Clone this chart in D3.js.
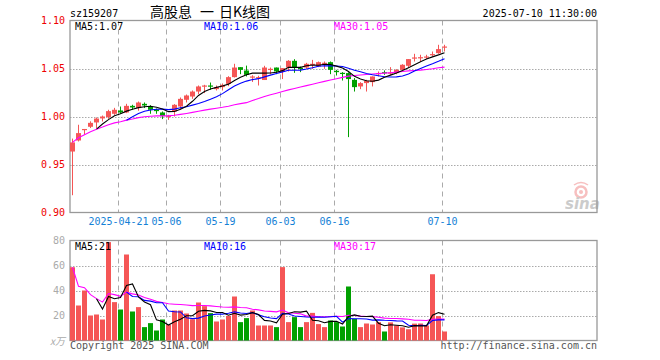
<!DOCTYPE html>
<html><head><meta charset="utf-8">
<script src="https://cdn.jsdelivr.net/npm/d3@7"></script>
<style>body{margin:0;background:#fff}svg{display:block}</style>
</head><body>
<script>
const dates = ["2025-04-09","2025-04-10","2025-04-11","2025-04-14","2025-04-15","2025-04-16","2025-04-17","2025-04-18","2025-04-21","2025-04-22","2025-04-23","2025-04-24","2025-04-25","2025-04-28","2025-04-29","2025-04-30",
"2025-05-06","2025-05-07","2025-05-08","2025-05-09","2025-05-12","2025-05-13","2025-05-14","2025-05-15","2025-05-16","2025-05-19","2025-05-20","2025-05-21","2025-05-22","2025-05-23","2025-05-26","2025-05-27","2025-05-28","2025-05-29","2025-05-30",
"2025-06-03","2025-06-04","2025-06-05","2025-06-06","2025-06-09","2025-06-10","2025-06-11","2025-06-12","2025-06-13","2025-06-16","2025-06-17","2025-06-18","2025-06-19","2025-06-20","2025-06-23","2025-06-24","2025-06-25","2025-06-26","2025-06-27","2025-06-30",
"2025-07-01","2025-07-02","2025-07-03","2025-07-04","2025-07-07","2025-07-08","2025-07-09","2025-07-10"];
const open  = [0.9635,0.975,0.9865,0.9893,0.9938,0.998,0.9994,1.0028,1.0063,1.0042,1.0111,1.0088,1.0132,1.0104,1.0073,1.0042,1.0004,1.0052,1.0104,1.0174,1.0208,1.026,1.032,1.0323,1.0285,1.0306,1.034,1.041,1.0514,1.0479,1.0414,1.0407,1.038,1.0494,1.051,1.0469,1.051,1.058,1.0507,1.051,1.0546,1.052,1.0549,1.0566,1.0476,1.0455,1.0452,1.0382,1.0313,1.0348,1.0358,1.0449,1.0462,1.0455,1.0452,1.0486,1.0528,1.0612,1.0612,1.0618,1.0642,1.066,1.0719];
const high  = [0.977,0.9914,0.987,0.995,0.999,1.001,1.007,1.009,1.0104,1.0132,1.0122,1.0156,1.0146,1.0118,1.0083,1.0052,1.0017,1.0129,1.0198,1.0229,1.0271,1.0323,1.033,1.0354,1.0323,1.0344,1.042,1.0549,1.0514,1.053,1.043,1.0424,1.0528,1.051,1.051,1.0504,1.0587,1.0597,1.052,1.0559,1.059,1.0573,1.0573,1.0573,1.0486,1.0462,1.046,1.04,1.0358,1.0382,1.0417,1.0469,1.048,1.0514,1.0493,1.0545,1.0598,1.0653,1.0643,1.0643,1.0677,1.0747,1.0747];
const low   = [0.918,0.974,0.981,0.988,0.988,0.9948,0.9976,1.0017,1.0028,1.0035,1.007,1.006,1.0088,1.0028,1.0028,0.9973,0.9965,1.000,1.0073,1.0146,1.0184,1.0233,1.0244,1.0278,1.0271,1.0271,1.0316,1.0406,1.0441,1.0417,1.036,1.0323,1.038,1.044,1.0441,1.039,1.0469,1.0455,1.0462,1.0497,1.0497,1.0514,1.0497,1.0441,1.0427,1.0375,0.9785,1.026,1.0285,1.026,1.0313,1.0417,1.0434,1.0434,1.044,1.048,1.0504,1.0573,1.0573,1.0598,1.0625,1.0653,1.0677];
const close = [0.973,0.9827,0.987,0.9934,0.9979,1.000,1.0056,1.007,1.0042,1.0111,1.0094,1.0146,1.0115,1.007,1.0056,1.0004,1.0008,1.0122,1.0184,1.0219,1.026,1.0313,1.0323,1.0316,1.0306,1.033,1.041,1.051,1.0486,1.0434,1.0417,1.041,1.051,1.0497,1.0469,1.0504,1.058,1.051,1.0497,1.0549,1.0549,1.0566,1.056,1.0486,1.0462,1.0448,1.039,1.0306,1.0348,1.0372,1.0417,1.0452,1.0455,1.0458,1.0486,1.0539,1.0598,1.0615,1.0618,1.0625,1.065,1.0702,1.0729];
const volume = [58.6,28,40,20,20.8,16.8,78.7,30.7,24.8,68.8,23.2,26.7,10.7,13.9,8,16.8,12.5,24,24,21.6,17,30.4,27.5,21.9,15.2,16.8,19.7,35.2,14.7,17.9,24,12,12,12,10.7,58.7,14.7,18.7,10.7,14.7,22.1,13.1,10.7,16,14.7,11.2,43.2,17.3,10.7,13.6,12.8,14.7,7.2,14.5,12,10.5,9,13.5,13.6,12,53,19.5,7.2];
const tickDates  = ["2025-04-21","2025-05-06","2025-05-19","2025-06-03","2025-06-16","2025-07-10"];
const tickLabels = ["2025-04-21","05-06","05-19","06-03","06-16","07-10"];
const priceTicks = [0.90,0.95,1.00,1.05,1.10];
const volTicks = [20,40,60,80];

const W=660,H=360;
const RED="#f55656", GREEN="#00a000", GRID="#aaa", FRAME="#999";
const MONO="'DejaVu Sans Mono', 'Liberation Mono', monospace";
const FS=10;
const CJK="'Noto Sans CJK SC', sans-serif";

const svg = d3.select("body").append("svg").attr("width",W).attr("height",H);

const x = d3.scaleLinear().domain([0,88]).range([70,598]);
const yP = d3.scaleLinear().domain([0.90,1.10]).range([212.5,20.5]);
const yV = d3.scaleLinear().domain([0,80]).range([340.5,240.5]);
const bw = 5;
const cx = i => x(i)+2.5;

function ma(arr,n,expanding){
  return arr.map((_,i)=>{
    if(i<n-1 && !expanding) return null;
    return d3.mean(arr.slice(Math.max(0,i-n+1),i+1));
  });
}
const pMA5=ma(close,5), pMA10=ma(close,10), pMA30=ma(close,30,true);
const vMA5=ma(volume,5), vMA10=ma(volume,10), vMA30=ma(volume,30,true);
const up = close.map((c,i)=>c>=open[i]);
const tickIdx = tickDates.map(d=>dates.indexOf(d));

svg.append("text").attr("x",70).attr("y",16.5).attr("font-family",MONO).attr("font-size",FS).attr("fill","#000").text("sz159207");
svg.append("text").attr("x",150).attr("y",17).attr("font-family",CJK).attr("font-size",14).attr("fill","#000").text("高股息");
svg.append("text").attr("x",200).attr("y",17).attr("font-family",CJK).attr("font-size",14).attr("fill","#000").text("一");
svg.append("text").attr("x",219).attr("y",17).attr("font-family",CJK).attr("font-size",14).attr("fill","#000").text("日K线图");
svg.append("text").attr("x",597).attr("y",16.5).attr("text-anchor","end").attr("font-family",MONO).attr("font-size",FS).attr("fill","#000").text("2025-07-10 11:30:00");

function panel(y0,y1,hTicks,yS){
  const g=svg.append("g");
  g.selectAll(".hg").data(hTicks).join("line")
    .attr("x1",70).attr("x2",597).attr("y1",d=>Math.round(yS(d))+0.5).attr("y2",d=>Math.round(yS(d))+0.5)
    .attr("stroke",GRID).attr("stroke-dasharray","1.5,1.5");
  g.selectAll(".vg").data(tickIdx).join("line")
    .attr("x1",d=>x(d)+0.5).attr("x2",d=>x(d)+0.5).attr("y1",y0).attr("y2",y1)
    .attr("stroke",GRID).attr("stroke-dasharray","5,4");
  g.append("rect").attr("x",70).attr("y",y0).attr("width",527).attr("height",y1-y0)
    .attr("fill","none").attr("stroke",FRAME).attr("stroke-width",1.3);
  return g;
}
panel(20.5,212.5,[0.95,1.00,1.05],yP);
panel(240.5,340.5,[20,40,60],yV);

svg.selectAll(".pl").data(priceTicks).join("text")
  .attr("x",65).attr("y",d=>yP(d)).attr("dy","0.35em").attr("text-anchor","end")
  .attr("font-family",MONO).attr("font-size",FS).attr("fill","#e00").text(d=>d.toFixed(2));
svg.selectAll(".vl").data(volTicks).join("text")
  .attr("x",65).attr("y",d=>yV(d)).attr("dy","0.35em").attr("text-anchor","end")
  .attr("font-family",MONO).attr("font-size",FS).attr("fill","#aaa").text(d=>d);
svg.append("text").attr("x",65).attr("y",345).attr("text-anchor","end").attr("font-family",CJK).attr("font-size",10).attr("font-style","italic").attr("fill","#aaa").text("x万");

svg.selectAll(".xl").data(tickIdx).join("text")
  .attr("x",(d)=>x(d)+0.5).attr("y",225).attr("text-anchor","middle")
  .attr("font-family",MONO).attr("font-size",FS).attr("fill","#1581d6").text((d,i)=>tickLabels[i]);

const cg=svg.append("g");
dates.forEach((d,i)=>{
  const col = up[i]?RED:GREEN;
  cg.append("line").attr("x1",cx(i)).attr("x2",cx(i)).attr("y1",yP(high[i])).attr("y2",yP(low[i])).attr("stroke",col).attr("stroke-width",1);
  const t=Math.min(yP(open[i]),yP(close[i])), b=Math.max(yP(open[i]),yP(close[i]));
  cg.append("rect").attr("x",x(i)).attr("y",t).attr("width",bw).attr("height",Math.max(1.2,b-t)).attr("fill",col);
});
svg.append("g").selectAll("rect").data(volume).join("rect")
  .attr("x",(d,i)=>x(i)).attr("y",d=>yV(d)).attr("width",bw).attr("height",d=>yV(0)-yV(d))
  .attr("fill",(d,i)=>up[i]?RED:GREEN);

function drawLine(arr,yS,color){
  const ln=d3.line().defined(d=>d!=null).x((d,i)=>cx(i)).y(d=>yS(d));
  svg.append("path").datum(arr).attr("d",ln).attr("fill","none").attr("stroke",color).attr("stroke-width",1.1);
}
drawLine(pMA30,yP,"#ff00ff"); drawLine(pMA10,yP,"#0000ff"); drawLine(pMA5,yP,"#000");
drawLine(vMA30,yV,"#ff00ff"); drawLine(vMA10,yV,"#0000ff"); drawLine(vMA5,yV,"#000");

const last=a=>a[a.length-1];
function legend(y,items){
  items.forEach(([tx,txt,col])=>{
    svg.append("text").attr("x",tx).attr("y",y).attr("font-family",MONO).attr("font-size",FS).attr("fill",col).text(txt);
  });
}
legend(29.5,[[75,"MA5:"+last(pMA5).toFixed(2),"#000"],[204,"MA10:"+last(pMA10).toFixed(2),"#0000ff"],[334,"MA30:"+last(pMA30).toFixed(2),"#ff00ff"]]);
legend(250,[[75,"MA5:"+Math.round(last(vMA5)),"#000"],[204,"MA10:"+Math.round(last(vMA10)),"#0000ff"],[334,"MA30:"+Math.round(last(vMA30)),"#ff00ff"]]);

svg.append("text").attr("x",70).attr("y",349).attr("font-family",MONO).attr("font-size",FS).attr("fill","#555").text("Copyright 2025 SINA.COM");
svg.append("text").attr("x",597).attr("y",349).attr("text-anchor","end").attr("font-family",MONO).attr("font-size",FS).attr("fill","#555").text("http://finance.sina.com.cn");

const wm=svg.append("g").attr("opacity",0.5);
wm.append("circle").attr("cx",581).attr("cy",192).attr("r",5.5).attr("fill","none").attr("stroke","#f08080").attr("stroke-width",2.5);
wm.append("circle").attr("cx",581).attr("cy",192).attr("r",2).attr("fill","#f08080");
wm.append("path").attr("d","M574,185 q7,-5 14,0").attr("fill","none").attr("stroke","#f08080").attr("stroke-width",1.5);
wm.append("text").attr("x",565).attr("y",209).attr("font-family","'DejaVu Sans', sans-serif").attr("font-size",15).attr("font-weight","bold").attr("font-style","italic").attr("fill","#999").text("sina");
</script>
</body></html>
